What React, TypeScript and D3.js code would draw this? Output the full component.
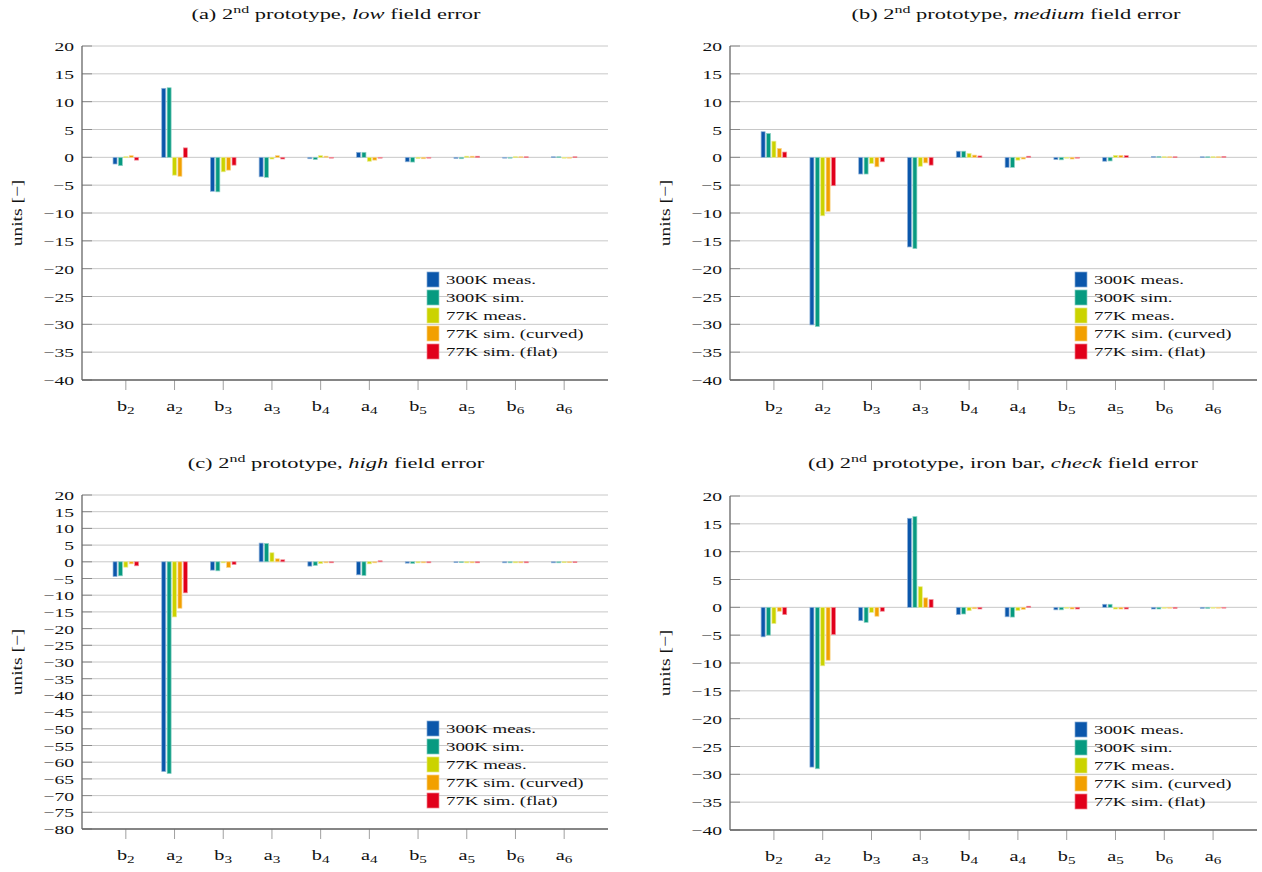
import * as d3 from 'd3'
import { useEffect, useRef } from 'react'

// categories along the x axis: letter + subscript index
const categories = ['b2', 'a2', 'b3', 'a3', 'b4', 'a4', 'b5', 'a5', 'b6', 'a6']
const seriesNames = ['300K meas.', '300K sim.', '77K meas.', '77K sim. (curved)', '77K sim. (flat)']
const seriesColors = ['#0b57ab', '#079a80', '#cbd300', '#f2a000', '#e1001a']

// (a) low field error
const lowMeas300 = [-1.2, 12.4, -6.1, -3.5, -0.25, 0.9, -0.8, -0.2, -0.1, 0.1]
const lowSim300 = [-1.5, 12.5, -6.2, -3.6, -0.4, 0.9, -0.85, -0.25, -0.15, 0.1]
const lowMeas77 = [0.1, -3.2, -2.6, -0.3, 0.3, -0.7, -0.2, 0.2, 0.1, -0.1]
const lowCurved77 = [0.3, -3.4, -2.3, 0.3, 0.2, -0.5, -0.25, 0.2, 0.1, -0.1]
const lowFlat77 = [-0.5, 1.7, -1.4, -0.3, -0.1, -0.1, -0.1, 0.2, 0.1, 0.1]

// (b) medium field error
const medMeas300 = [4.6, -30.1, -3.0, -16.1, 1.1, -1.8, -0.4, -0.7, 0.15, 0.1]
const medSim300 = [4.3, -30.4, -3.0, -16.4, 1.1, -1.8, -0.45, -0.65, 0.15, 0.1]
const medMeas77 = [2.9, -10.5, -1.1, -1.6, 0.7, -0.5, -0.1, 0.35, 0.1, 0.1]
const medCurved77 = [1.6, -9.7, -1.7, -1.0, 0.4, -0.3, -0.3, 0.35, 0.1, 0.1]
const medFlat77 = [0.95, -5.1, -0.8, -1.4, 0.25, 0.2, -0.15, 0.3, 0.1, 0.15]

// (c) high field error
const highMeas300 = [-4.4, -62.8, -2.5, 5.6, -1.3, -3.9, -0.4, -0.2, -0.3, -0.3]
const highSim300 = [-4.2, -63.4, -2.7, 5.5, -1.1, -4.1, -0.5, -0.2, -0.3, -0.3]
const highMeas77 = [-1.6, -16.5, -0.3, 2.7, -0.5, -0.6, -0.3, -0.3, -0.3, -0.2]
const highCurved77 = [-0.6, -13.9, -1.7, 0.9, -0.3, -0.3, -0.3, -0.3, -0.3, -0.2]
const highFlat77 = [-1.2, -9.3, -0.8, 0.6, -0.3, 0.3, -0.3, -0.3, -0.3, -0.2]

// (d) iron bar, check field error
const checkMeas300 = [-5.3, -28.7, -2.4, 16.0, -1.3, -1.7, -0.45, 0.55, -0.3, -0.2]
const checkSim300 = [-5.0, -29.0, -2.7, 16.3, -1.2, -1.75, -0.45, 0.55, -0.3, -0.2]
const checkMeas77 = [-2.9, -10.5, -0.9, 3.7, -0.6, -0.55, -0.15, -0.3, -0.15, -0.1]
const checkCurved77 = [-0.7, -9.5, -1.6, 1.7, -0.25, -0.35, -0.3, -0.3, -0.15, -0.1]
const checkFlat77 = [-1.3, -4.9, -0.7, 1.4, -0.3, 0.2, -0.3, -0.3, -0.2, -0.1]

const yTicksSmall = d3.range(-40, 21, 5)
const yTicksLarge = d3.range(-80, 21, 5)

const FONT = '"Liberation Serif", "DejaVu Serif", serif'
// the original figure is stretched sideways, so text is widened too
const SX = 1.45

const panels = [
    { tag: '(a)', word: 'low', pre: '', left: 82, right: 608, top: 46, bottom: 380, yMin: -40, ticks: yTicksSmall, titleX: 336, titleY: 19,
      series: [lowMeas300, lowSim300, lowMeas77, lowCurved77, lowFlat77] },
    { tag: '(b)', word: 'medium', pre: '', left: 730, right: 1257, top: 46, bottom: 380, yMin: -40, ticks: yTicksSmall, titleX: 1016, titleY: 19,
      series: [medMeas300, medSim300, medMeas77, medCurved77, medFlat77] },
    { tag: '(c)', word: 'high', pre: '', left: 82, right: 608, top: 495, bottom: 829, yMin: -80, ticks: yTicksLarge, titleX: 336, titleY: 468,
      series: [highMeas300, highSim300, highMeas77, highCurved77, highFlat77] },
    { tag: '(d)', word: 'check', pre: ' iron bar,', left: 730, right: 1257, top: 496, bottom: 830, yMin: -40, ticks: yTicksSmall, titleX: 1003, titleY: 468,
      series: [checkMeas300, checkSim300, checkMeas77, checkCurved77, checkFlat77] },
]

const fmt = (v: number) => (v < 0 ? '\u2212' + Math.abs(v) : String(v))

const App = () => {
    const ref = useRef<SVGSVGElement>(null)

    useEffect(() => {
        document.body.style.margin = '0'
        const svg = d3.select(ref.current)
        svg.selectAll('*').remove()

        panels.forEach(p => {
            const g = svg.append('g')

            const x = d3.scalePoint<string>()
                .domain(categories)
                .range([p.left, p.right])
                .padding(0.9)
            const y = d3.scaleLinear()
                .domain([p.yMin, 20])
                .range([p.bottom, p.top])

            // title
            const title = g.append('text')
                .attr('transform', `translate(${p.titleX},${p.titleY}) scale(${SX},1)`)
                .attr('text-anchor', 'middle')
                .attr('font-family', FONT)
                .attr('font-size', 15.5)
                .attr('fill', '#111')
            title.append('tspan').text(`${p.tag} 2`)
            title.append('tspan').attr('font-size', 11).attr('dy', -6).text('nd')
            title.append('tspan').attr('dy', 6).text(` prototype,${p.pre} `)
            title.append('tspan').attr('font-style', 'italic').text(p.word)
            title.append('tspan').text(' field error')

            // grid lines + tick marks
            g.selectAll('line.grid')
                .data(p.ticks)
                .join('line')
                .attr('x1', p.left).attr('x2', p.right)
                .attr('y1', d => y(d)).attr('y2', d => y(d))
                .attr('stroke', '#c8c8c8')
                .attr('stroke-width', 1)
            g.selectAll('line.ytick')
                .data(p.ticks)
                .join('line')
                .attr('x1', p.left).attr('x2', p.left + 10)
                .attr('y1', d => y(d)).attr('y2', d => y(d))
                .attr('stroke', '#8a8a8a')
                .attr('stroke-width', 1)
            g.selectAll('text.ylab')
                .data(p.ticks)
                .join('text')
                .attr('transform', d => `translate(${p.left - 8},${y(d) + 5}) scale(${SX},1)`)
                .attr('text-anchor', 'end')
                .attr('font-family', FONT)
                .attr('font-size', 13.5)
                .attr('fill', '#111')
                .text(d => fmt(d))

            // y axis label
            g.append('text')
                .attr('transform', `translate(${p.left - 60},${(p.top + p.bottom) / 2}) rotate(-90) scale(1.3,1)`)
                .attr('text-anchor', 'middle')
                .attr('font-family', FONT)
                .attr('font-size', 15)
                .attr('fill', '#111')
                .text('units [\u2212]')

            // x ticks and labels
            g.selectAll('line.xtick')
                .data(categories)
                .join('line')
                .attr('x1', d => x(d)!).attr('x2', d => x(d)!)
                .attr('y1', p.bottom).attr('y2', p.bottom + 10)
                .attr('stroke', '#a0a0a0')
                .attr('stroke-width', 1)
            const xl = g.selectAll('text.xlab')
                .data(categories)
                .join('text')
                .attr('transform', d => `translate(${x(d)},${p.bottom + 31}) scale(${SX},1)`)
                .attr('text-anchor', 'middle')
                .attr('font-family', FONT)
                .attr('font-size', 14)
                .attr('fill', '#111')
            xl.append('tspan').text(d => d[0])
            xl.append('tspan').attr('font-size', 10.5).attr('dy', 3).text(d => d.slice(1))

            // bars
            const bw = 4
            const pitch = 5.4
            p.series.forEach((vals, si) => {
                const edge = d3.interpolateRgb(seriesColors[si], '#ffffff')(0.55)
                g.selectAll(`rect.s${si}`)
                    .data(vals)
                    .join('rect')
                    .attr('x', (_, i) => x(categories[i])! + (si - 2) * pitch - bw / 2)
                    .attr('y', d => y(Math.max(0, d)))
                    .attr('width', bw)
                    .attr('height', d => Math.max(0.8, Math.abs(y(d) - y(0))))
                    .attr('fill', seriesColors[si])
                    .attr('stroke', edge)
                    .attr('stroke-width', 0.7)
            })

            // axis lines
            g.append('line')
                .attr('x1', p.left).attr('x2', p.left)
                .attr('y1', p.top).attr('y2', p.bottom)
                .attr('stroke', '#666').attr('stroke-width', 1.3)
            g.append('line')
                .attr('x1', p.left).attr('x2', p.right)
                .attr('y1', p.bottom).attr('y2', p.bottom)
                .attr('stroke', '#666').attr('stroke-width', 1.5)

            // legend (no frame, no fill)
            const lx = p.left + 345
            const ly = p.bottom - 108
            seriesNames.forEach((name, i) => {
                g.append('rect')
                    .attr('x', lx).attr('y', ly + i * 18)
                    .attr('width', 12).attr('height', 15)
                    .attr('fill', seriesColors[i])
                    .attr('stroke', d3.interpolateRgb(seriesColors[i], '#ffffff')(0.5))
                    .attr('stroke-width', 0.7)
                g.append('text')
                    .attr('transform', `translate(${lx + 19},${ly + i * 18 + 12}) scale(${SX},1)`)
                    .attr('font-family', FONT)
                    .attr('font-size', 13)
                    .attr('fill', '#111')
                    .text(name)
            })
        })
    }, [])

    return (
        <svg ref={ref} width={1262} height={872} style={{ display: 'block', background: '#fff' }} />
    )
}

export default App
